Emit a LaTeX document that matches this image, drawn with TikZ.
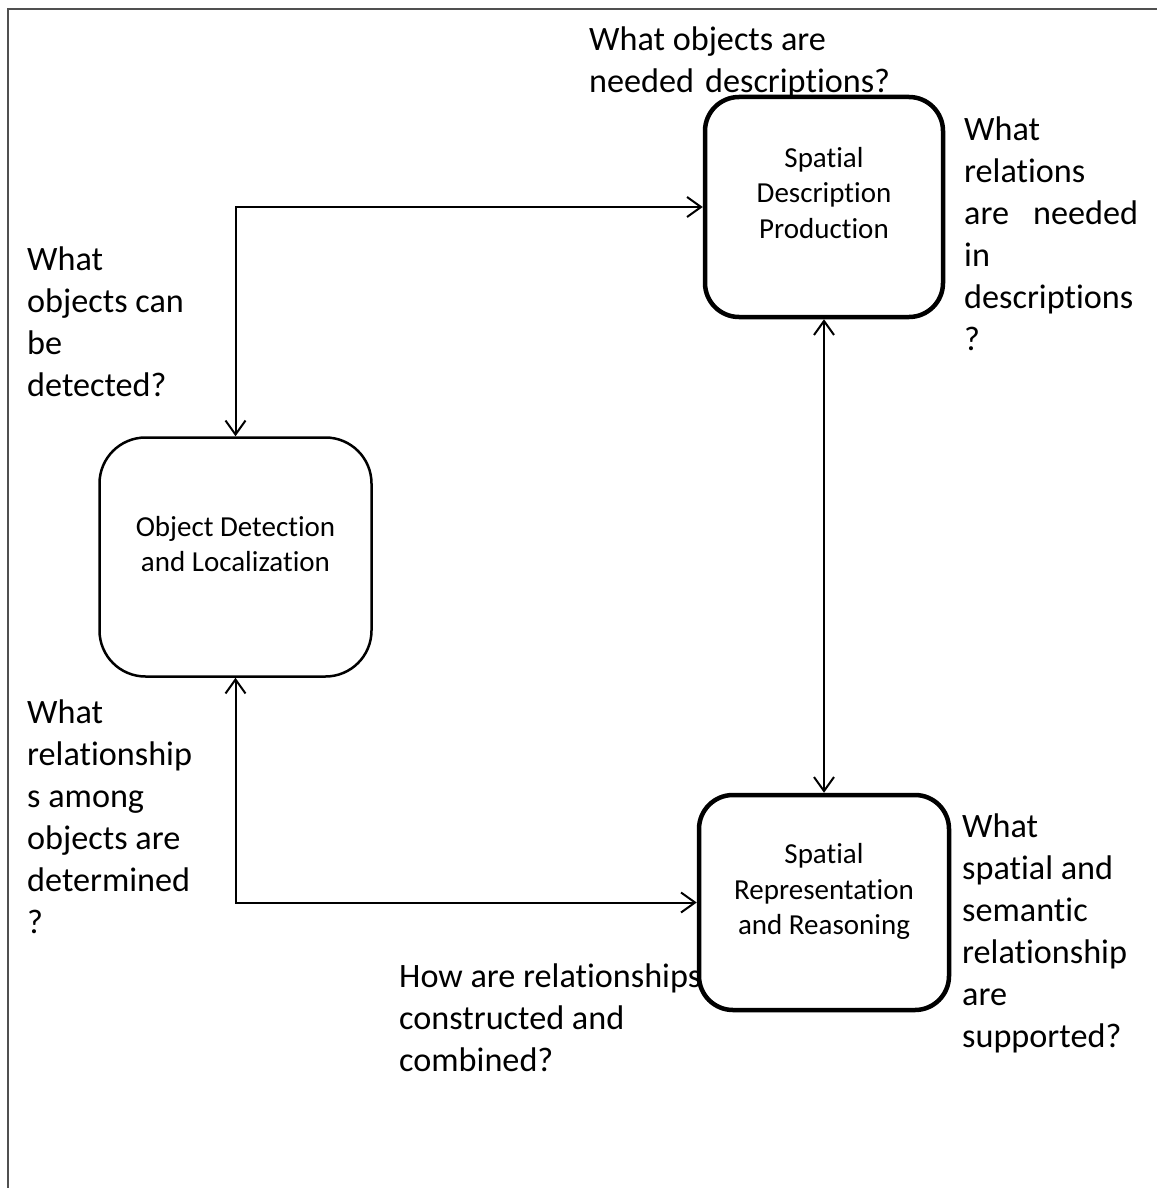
\documentclass[tikz,border=0pt]{standalone}
\usepackage{fontspec}
\setmainfont{Carlito}[Ligatures=NoCommon]
\usetikzlibrary{arrows.meta}
\definecolor{framegray}{HTML}{505050}

\begin{document}
\begin{tikzpicture}[x=1pt, y=-1pt,
    boxthick/.style={draw=black, line width=4.5pt, rounded corners=34pt, inner sep=0pt},
    boxthin/.style={draw=black, line width=2.5pt, rounded corners=46pt, inner sep=0pt},
    boxtext/.style={align=center, inner sep=0pt, font=\fontsize{29}{35.5}\selectfont},
    question/.style={align=left, anchor=north west, inner sep=0pt, font=\fontsize{34.2}{42}\selectfont},
    link/.style={{Straight Barb[length=14pt,width=20pt]}-{Straight Barb[length=14pt,width=20pt]}, line width=2pt}]
        	\useasboundingbox (0,0) rectangle (1157,1188);
        	\draw [line width=2.5pt, color=framegray] (8,1188) -- (8,9) -- (1157,9);
        	% the three stages
        	\node [boxthick, minimum width=238pt, minimum height=220pt] (sdp) at (824,207) {};
        	\node [boxthin, minimum width=272pt, minimum height=239pt] (odl) at (235.5,557) {};
        	\node [boxthick, minimum width=250pt, minimum height=215pt] (srr) at (824,902.5) {};
        	\node [boxtext] (sdptext) at ([yshift=14pt]sdp.center) {Spatial\\Description\\Production};
        	\node [boxtext] (odltext) at ([yshift=13pt]odl.center) {Object Detection\\and Localization};
        	\node [boxtext] (srrtext) at ([yshift=11pt]srr.center) {Spatial\\Representation\\and Reasoning};
        	% questions
        	\node [question] (qtop) at (589,27) {What objects are\\needed\hspace{11pt}descriptions?};
        	\node [question] (qsdp) at (964,117) {What\\relations\\are\hspace{24pt}needed\\in\\descriptions\\?};
        	\node [question] (qdetect) at (27,247) {What\\objects can\\be\\detected?};
        	\node [question] (qamong) at (27,700) {What\\relationship\\s among\\objects are\\determined\\?};
        	\node [question] (qhow) at (399,964) {How are relationships\\constructed and\\combined?};
        	\node [question] (qsrr) at (962,814) {What\\spatial and\\semantic\\relationship\\are\\supported?};
        	% links
        	\draw [link] (odl.north) |- (sdp.west);
        	\draw [link] (sdp.south) -- (srr.north);
        	\draw [link] (odl.south) |- (srr.west);
        \end{tikzpicture}
\end{document}
